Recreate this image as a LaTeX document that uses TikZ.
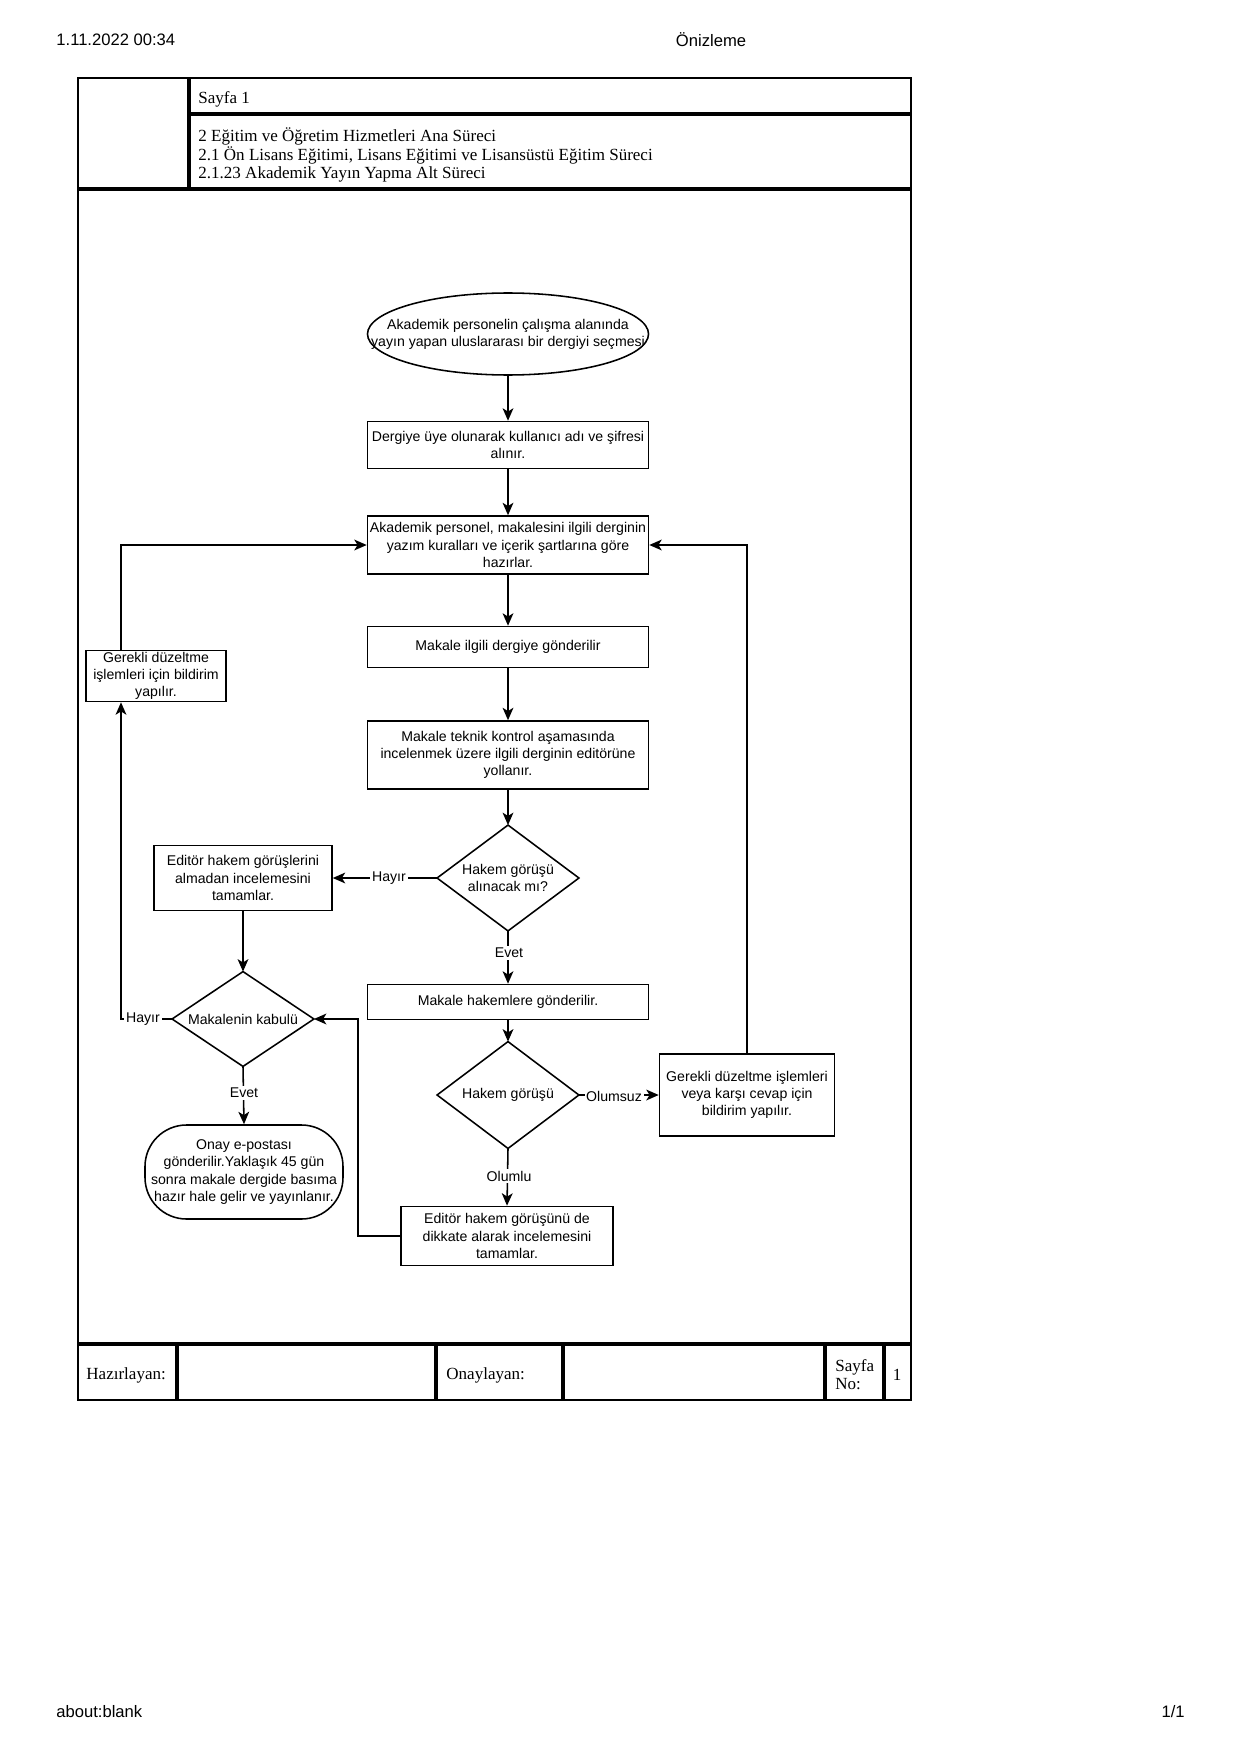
\documentclass[tikz,border=0pt]{standalone}
\usepackage{fontspec}
\setmainfont{Liberation Serif}
\setsansfont{Liberation Sans}
\usetikzlibrary{shapes.geometric,arrows.meta}
\tikzset{
  flowfont/.style={font=\sffamily\fontsize{6.8}{8.3}\selectfont},
  pbox/.style 2 args={flowfont, draw, rectangle, align=center, inner sep=0pt, line width=0.75pt,
    minimum width=#1*0.4818pt, minimum height=#2*0.4818pt},
  pbare/.style 2 args={flowfont, rectangle, align=center, inner sep=0pt,
    minimum width=#1*0.4818pt, minimum height=#2*0.4818pt},
  pterm/.style 2 args={flowfont, draw, rectangle, rounded corners=20pt, align=center, inner sep=0pt, line width=0.75pt,
    minimum width=#1*0.4818pt, minimum height=#2*0.4818pt},
  shapeline/.style={line width=0.75pt},
  arr/.style={line width=0.75pt, -{Stealth[length=6pt,width=5.2pt,inset=1.6pt]}},
  lbl/.style={flowfont, fill=white, inner sep=0.8pt},
  cell/.style={draw, line width=0.8pt},
  tfont/.style={font=\rmfamily\fontsize{8.2}{9.2}\selectfont, inner sep=0pt},
  pfont/.style={font=\sffamily\fontsize{8}{9.5}\selectfont, inner sep=0pt},
}
\begin{document}
\begin{tikzpicture}[x=0.4818pt,y=-0.4818pt]
\useasboundingbox (0,0) rectangle (1240,1754);

% page header / footer
\node[pfont, anchor=west] (pdate) at (56,40) {1.11.2022 00:34};
\node[pfont] (ptitle) at (711,40) {Önizleme};
\node[pfont, anchor=west] (purl) at (56,1712) {about:blank};
\node[pfont, anchor=east] (ppage) at (1185,1712) {1/1};

% table cells
\draw[cell] (78,78) rectangle (188,188);
\draw[cell] (190,78) rectangle (911,113);
\draw[cell] (190,115) rectangle (911,188);
\draw[cell] (78,190) rectangle (911,1343);
\draw[cell] (78,1345) rectangle (176,1400);
\draw[cell] (178,1345) rectangle (435,1400);
\draw[cell] (437,1345) rectangle (562,1400);
\draw[cell] (564,1345) rectangle (824,1400);
\draw[cell] (826,1345) rectangle (883,1400);
\draw[cell] (885,1345) rectangle (911,1400);

\node[tfont, anchor=west] (sayfa) at (198,99) {Sayfa 1};
\node[tfont, anchor=west] (h1) at (198,136) {2 Eğitim ve Öğretim Hizmetleri Ana Süreci};
\node[tfont, anchor=west] (h2) at (198,155) {2.1 Ön Lisans Eğitimi, Lisans Eğitimi ve Lisansüstü Eğitim Süreci};
\node[tfont, anchor=west] (h3) at (198,174) {2.1.23 Akademik Yayın Yapma Alt Süreci};

\node[tfont, anchor=west] (haz) at (86,1375) {Hazırlayan:};
\node[tfont, anchor=west] (ona) at (446,1375) {Onaylayan:};
\node[tfont, anchor=west, align=left, font=\rmfamily\fontsize{8.2}{8.7}\selectfont] (sno) at (835,1375) {Sayfa\\No:};
\node[tfont] (pno) at (897,1375) {1};

% flowchart nodes
\node[pbare={281}{82}] (start) at (508,334) {Akademik personelin çalışma alanında\\yayın yapan uluslararası bir dergiyi seçmesi};
\draw[shapeline] (start.center) ellipse [x radius=67.7pt, y radius=19.75pt];
\node[pbox={281}{47}] (dergi) at (508,445) {Dergiye üye olunarak kullanıcı adı ve şifresi\\alınır.};
\node[pbox={281}{58}] (hazir) at (508,545) {Akademik personel, makalesini ilgili derginin\\yazım kuralları ve içerik şartlarına göre\\hazırlar.};
\node[pbox={281}{41}] (gonder) at (508,647) {Makale ilgili dergiye gönderilir};
\node[pbox={281}{68}] (teknik) at (508,755) {Makale teknik kontrol aşamasında\\incelenmek üzere ilgili derginin editörüne\\yollanır.};
\node[pbare={141}{105}] (d1) at (508,878) {Hakem görüşü\\alınacak mı?};
\draw[shapeline] (d1.north) -- (d1.east) -- (d1.south) -- (d1.west) -- cycle;
\node[pbox={281}{35}] (hakem) at (508,1002) {Makale hakemlere gönderilir.};
\node[pbare={141}{106}] (d2) at (508,1095) {Hakem görüşü};
\draw[shapeline] (d2.north) -- (d2.east) -- (d2.south) -- (d2.west) -- cycle;
\node[pbox={212}{59}] (edB) at (507,1236) {Editör hakem görüşünü de\\dikkate alarak incelemesini\\tamamlar.};
\node[pbox={175}{82}] (gerR) at (747,1095) {Gerekli düzeltme işlemleri\\veya karşı cevap için\\bildirim yapılır.};
\node[pbox={178}{65}] (edA) at (243,878) {Editör hakem görüşlerini\\almadan incelemesini\\tamamlar.};
\node[pbare={141}{94}] (kab) at (243,1019) {Makalenin kabulü};
\draw[shapeline] (kab.north) -- (kab.east) -- (kab.south) -- (kab.west) -- cycle;
\node[pbox={140}{51}] (gerL) at (156,676) {Gerekli düzeltme\\işlemleri için bildirim\\yapılır.};
\node[pterm={198}{94}] (onay) at (244,1172) {Onay e-postası\\gönderilir.Yaklaşık 45 gün\\sonra makale dergide basıma\\hazır hale gelir ve yayınlanır.};

\coordinate (cB) at (358,1236);
\coordinate (cL) at (121,1019);

% connectors
\draw[arr] (start.south) -- (dergi.north);
\draw[arr] (dergi.south) -- (hazir.north);
\draw[arr] (hazir.south) -- (gonder.north);
\draw[arr] (gonder.south) -- (teknik.north);
\draw[arr] (teknik.south) -- (d1.north);
\draw[arr] (d1.west) -- (edA.east);
\draw[arr] (d1.south) -- (hakem.north);
\draw[arr] (hakem.south) -- (d2.north);
\draw[arr] (d2.east) -- (gerR.west);
\draw[arr] (gerR.north) |- (hazir.east);
\draw[arr] (d2.south) -- (edB.north);
\draw[arr] (edB.west) -- (cB) |- (kab.east);
\draw[arr] (edA.south) -- (kab.north);
\draw[arr] (kab.west) -- (cL) -- (gerL.south -| cL);
\draw[arr] (gerL.north -| cL) |- (hazir.west);
\draw[arr] (kab.south) -- (onay.north);

% labels
\node[lbl] (lhay1) at (389,878) {Hayır};
\node[lbl] (levet1) at (509,953) {Evet};
\node[lbl] (lolz) at (614,1096) {Olumsuz};
\node[lbl] (lolu) at (509,1176) {Olumlu};
\node[lbl] (levet2) at (244,1093) {Evet};
\node[lbl] (lhay2) at (143,1019) {Hayır};
\end{tikzpicture}
\end{document}
